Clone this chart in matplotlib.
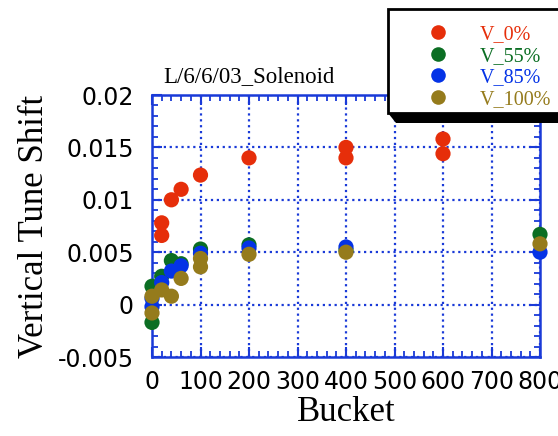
import numpy as np
import matplotlib
matplotlib.use('Agg')
import matplotlib.pyplot as plt
from matplotlib.lines import Line2D
from matplotlib.patches import Polygon, Rectangle
from matplotlib.ticker import MultipleLocator

# values
bucket_v0 = [20, 20, 40, 60, 100, 200, 400, 400, 600, 600]
shift_v0 = [0.0078, 0.0066, 0.0100, 0.0110, 0.01236, 0.0140, 0.0150, 0.0140, 0.0158, 0.0144]

bucket_v55 = [0, 0, 20, 40, 60, 100, 200, 400, 800]
shift_v55 = [0.00175, -0.0017, 0.0027, 0.0042, 0.0039, 0.0053, 0.0057, 0.0052, 0.0067]

bucket_v85 = [0, 0, 20, 40, 60, 100, 200, 400, 800]
shift_v85 = [0.0006, -0.0002, 0.0021, 0.0032, 0.0037, 0.0049, 0.0054, 0.0055, 0.0050]

bucket_v100 = [0, 0, 20, 40, 60, 100, 100, 200, 400, 800]
shift_v100 = [0.0008, -0.0008, 0.0014, 0.0008, 0.0025, 0.0044, 0.0036, 0.0048, 0.0050, 0.0058]

labels = ['V_0%', 'V_55%', 'V_85%', 'V_100%']
colors = ['#e62e0a', '#0b6e23', '#0433e6', '#957b1c']
axis_blue = '#1a3ad8'

W, H = 558, 436
fig = plt.figure(figsize=(W/100, H/100), dpi=100)
ax = fig.add_axes([152/W, 1-357/H, (540-152)/W, (357-95)/H])

series = [(bucket_v0, shift_v0), (bucket_v55, shift_v55),
          (bucket_v85, shift_v85), (bucket_v100, shift_v100)]
for (bx, sy), c in zip(series, colors):
    ax.scatter(bx, sy, s=120, color=c, edgecolors='none', clip_on=False, zorder=3)

ax.set_xlim(0, 800)
ax.set_ylim(-0.005, 0.02)
ax.xaxis.set_major_locator(MultipleLocator(100))
ax.xaxis.set_minor_locator(MultipleLocator(20))
ax.yaxis.set_major_locator(MultipleLocator(0.005))
ax.yaxis.set_minor_locator(MultipleLocator(0.001))
ax.yaxis.set_major_formatter(plt.FuncFormatter(lambda v, p: '%g' % round(v, 4)))

ax.grid(True, which='major', color=axis_blue, linestyle=':', linewidth=1.6)
ax.set_axisbelow(True)
for sp in ax.spines.values():
    sp.set_color(axis_blue)
    sp.set_linewidth(1.8)
ax.tick_params(which='both', direction='in', top=True, right=True, color=axis_blue)
ax.tick_params(which='major', length=7, width=1.5, labelsize=17)
ax.tick_params(which='minor', length=4.5, width=1.3)
ax.tick_params(axis='y', pad=13)
ax.tick_params(axis='x', pad=9)

serif = 'Liberation Serif'
ax.set_xlabel('Bucket', fontsize=25, family=serif, labelpad=2)
ax.set_ylabel('Vertical Tune Shift', fontsize=25, family=serif, labelpad=5)
fig.text(163/W, 1-82/H, 'L/6/6/03_Solenoid', fontsize=16.5, family=serif,
         ha='left', va='baseline')

# legend box running past the right edge, with a black drop shadow
box = Rectangle((388/W, 1-113/H), (620-388)/W, (113-9)/H, transform=fig.transFigure,
                facecolor='white', edgecolor='black', linewidth=2)
shadow = Polygon([(388/W, 1-113/H), (620/W, 1-113/H),
                  (620/W, 1-123/H), (396/W, 1-123/H)],
                 closed=True, transform=fig.transFigure, facecolor='black',
                 edgecolor='none')
fig.patches.extend([shadow, box])

handles = [Line2D([], [], linestyle='none', marker='o', markersize=10.5,
                  markerfacecolor=c, markeredgecolor='none') for c in colors]
leg = fig.legend(handles, labels, loc='upper left',
                 bbox_to_anchor=(388/W, 1-113/H, (600-388)/W, (113-10)/H),
                 mode='expand', borderaxespad=0, frameon=False,
                 prop={'family': serif, 'size': 14.5}, borderpad=0.75,
                 handlelength=3.47, handletextpad=0.35, labelspacing=0.12)
for t, c in zip(leg.get_texts(), colors):
    t.set_color(c)

fig.savefig('out.png', dpi=100)
